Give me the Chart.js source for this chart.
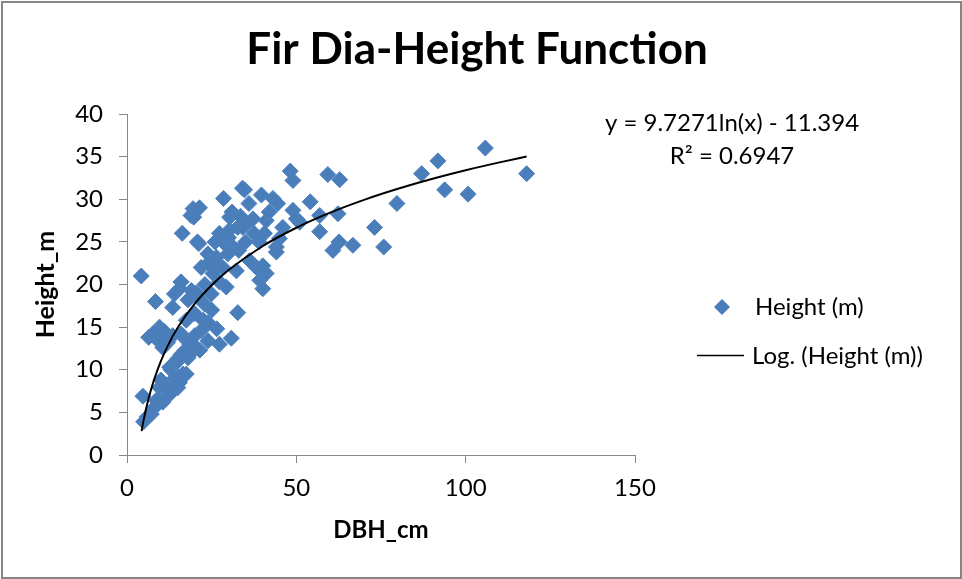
<!DOCTYPE html>
<html>
<head>
<meta charset="utf-8">
<script src="https://cdn.jsdelivr.net/npm/chart.js@4/dist/chart.umd.min.js"></script>
<style>
  html, body { margin: 0; padding: 0; background: #fff; }
  #box { position: relative; width: 962px; height: 579px; }
</style>
</head>
<body>
<div id="box"><canvas id="fir" width="962" height="579"></canvas></div>
<script>
// ---- data ----
const dbh = [
  4.2, 8.4, 4.7, 4.9, 6, 7.2, 8, 9, 10.6, 8.6, 9.6, 10, 11, 12.6, 13.5, 15, 14, 15.5, 16.5, 17.5,
  13, 12.6, 14.5, 16, 18, 15, 17, 19, 20.4, 21.5, 10.6, 12, 9, 6.4, 7.6, 9.6, 11, 13.5, 16, 17.5,
  18.5, 21.9, 23.9, 20, 22.5, 17.5, 20, 13.5, 14, 16, 19, 15.5, 18, 21, 22.9, 24.9, 25, 27.3, 30.8, 32.7,
  26.5, 24, 21.2, 23.9, 21.9, 16.3, 19.5, 21.4, 19.7, 28.5, 34.7, 39.7, 43.1, 48.2, 49, 59.3, 62.8, 54.1,
  49, 62.3, 56.9, 60.8, 66.7, 73.1, 75.8, 79.7, 87, 91.8, 93.8, 100.7, 105.8, 118, 62.6, 51, 56.9, 50,
  30.3, 30.3, 32.7, 35.2, 37.2, 41.1, 44.1, 40.6, 39.2, 40.1, 41.1, 38.2, 36.2, 32.3, 29.3, 27.3, 26.4, 28.3,
  25.4, 31.3, 28.8, 27.3, 29.8, 34.2, 46, 45, 44.1, 40.1, 33, 35, 24, 23, 20.5, 31, 33.5, 37.5, 42, 44.5,
  36, 39, 26, 30, 18.9, 20.8, 25.8, 15.9, 34.1
];
const height = [
  21.0, 18.0, 6.9, 3.9, 4.5, 4.8, 5.5, 6.5, 6.2, 6.4, 7.9, 8.8, 8.2, 7.1, 8.0, 7.9, 9.0, 8.5, 9.5, 9.5,
  10.0, 10.3, 10.8, 11.8, 11.4, 11.3, 12.2, 12.0, 12.6, 12.3, 12.6, 13.2, 13.5, 13.8, 14.2, 15.0, 14.5, 14.0, 14.2, 13.5,
  13.0, 14.6, 13.4, 14.0, 15.8, 15.8, 16.6, 17.3, 18.9, 20.3, 19.3, 19.5, 18.2, 18.5, 17.7, 18.9, 17.0, 13.0, 13.7, 16.7,
  14.8, 15.5, 24.8, 23.6, 22.0, 26.0, 28.9, 29.0, 27.9, 30.1, 31.1, 30.5, 30.1, 33.3, 32.2, 32.9, 32.3, 29.7,
  28.7, 28.3, 26.2, 24.0, 24.6, 26.7, 24.4, 29.5, 33.0, 34.5, 31.1, 30.6, 36.0, 33.0, 25.0, 27.3, 28.1, 27.7,
  26.4, 27.9, 26.7, 27.1, 27.7, 27.5, 24.4, 26.0, 20.5, 19.5, 21.3, 22.0, 22.8, 21.6, 19.7, 20.3, 23.2, 22.0,
  21.3, 24.4, 24.8, 26.0, 23.6, 26.7, 26.7, 25.4, 23.8, 22.2, 24.0, 25.0, 22.5, 20.0, 19.0, 28.5, 28.0, 26.0, 28.5, 29.5,
  29.5, 25.0, 25.0, 25.5, 28.1, 25.0, 22.8, 20.3, 31.3
];
// log trendline as shown: y = 9.7271ln(x) - 11.394
const trendX = [4.3, 4.5, 5, 5.5, 6, 7, 8, 10, 12, 15, 20, 25, 30, 40, 50, 60, 70, 80, 90, 100, 110, 118];
const trendY = [2.794, 3.236, 4.261, 5.188, 6.035, 7.534, 8.833, 11.003, 12.777, 14.948, 17.746, 19.917,
  21.690, 24.488, 26.659, 28.432, 29.932, 31.230, 32.376, 33.401, 34.328, 35.011];
const xTicks = [0, 50, 100, 150];
const yTicks = [0, 5, 10, 15, 20, 25, 30, 35, 40];

const FONT = 'Lato, "Open Sans", sans-serif';
const BLUE = '#4A7EBB';
const AXIS = '#868686';

const pts = dbh.map((x, i) => ({ x, y: height[i] }));
const trend = trendX.map((x, i) => ({ x, y: trendY[i] }));

// title, equation, legend and frame (Excel style)
const decor = {
  id: 'decor',
  afterDraw(chart) {
    const c = chart.ctx;
    c.save();
    c.strokeStyle = AXIS; c.lineWidth = 2;
    c.strokeRect(2, 2, 959, 576);
    c.fillStyle = '#000';
    c.textAlign = 'center'; c.textBaseline = 'alphabetic';
    c.font = 'bold 44px ' + FONT;
    c.fillText('Fir Dia-Height Function', 477, 64);
    c.font = '24px ' + FONT;
    c.fillText('y = 9.7271ln(x) - 11.394', 732, 131);
    c.fillText('R² = 0.6947', 732, 164);
    // legend
    c.fillStyle = BLUE;
    c.beginPath();
    c.moveTo(722, 299); c.lineTo(730, 307); c.lineTo(722, 315); c.lineTo(714, 307);
    c.closePath(); c.fill();
    c.strokeStyle = '#000'; c.lineWidth = 1.5;
    c.beginPath(); c.moveTo(697, 355.5); c.lineTo(744, 355.5); c.stroke();
    c.fillStyle = '#000'; c.textAlign = 'left'; c.textBaseline = 'middle';
    c.fillText('Height (m)', 755, 307);
    c.fillText('Log. (Height (m))', 752, 356);
    c.restore();
  }
};

new Chart(document.getElementById('fir'), {
  type: 'scatter',
  data: {
    datasets: [
      {
        label: 'Height (m)', data: pts, pointStyle: 'rectRot', pointRadius: 8, pointHoverRadius: 8,
        backgroundColor: BLUE, borderColor: '#4F81BD', borderWidth: 1, order: 2
      },
      {
        label: 'Log. (Height (m))', data: trend, type: 'line', showLine: true, pointRadius: 0,
        borderColor: '#000', borderWidth: 2, cubicInterpolationMode: 'monotone', fill: false, order: 1
      }
    ]
  },
  options: {
    responsive: false, animation: false, events: [],
    layout: { padding: { left: 0, top: 114, right: 327, bottom: 0 } },
    plugins: { legend: { display: false }, tooltip: { enabled: false }, title: { display: false } },
    scales: {
      x: {
        type: 'linear', min: 0, max: 150,
        afterBuildTicks: s => { s.ticks = xTicks.map(v => ({ value: v })); },
        afterFit: s => { s.height = 124; },
        grid: { drawOnChartArea: false, drawTicks: true, tickLength: 8, color: AXIS },
        border: { display: true, color: AXIS, width: 1 },
        ticks: { color: '#000', font: { family: FONT, size: 24 }, padding: 11 },
        title: { display: true, text: 'DBH_cm', color: '#000', font: { family: FONT, size: 24, weight: 'bold' }, padding: { bottom: 34 } }
      },
      y: {
        type: 'linear', min: 0, max: 40,
        afterBuildTicks: s => { s.ticks = yTicks.map(v => ({ value: v })); },
        afterFit: s => { s.width = 127; },
        grid: { drawOnChartArea: false, drawTicks: true, tickLength: 8, color: AXIS },
        border: { display: true, color: AXIS, width: 1 },
        ticks: { color: '#000', font: { family: FONT, size: 24 }, padding: 16 },
        title: { display: true, text: 'Height_m', color: '#000', font: { family: FONT, size: 25, weight: 'bold' }, padding: { top: 31 } }
      }
    }
  },
  plugins: [decor]
});
</script>
</body>
</html>
